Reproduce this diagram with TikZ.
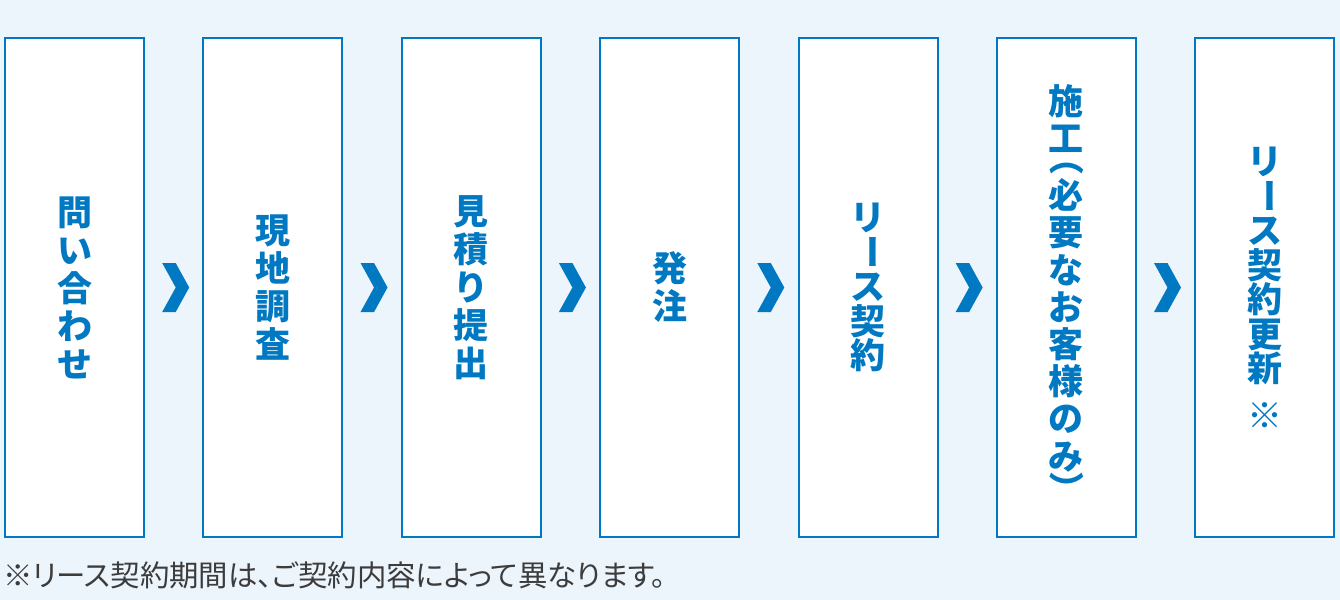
\documentclass[tikz,border=0pt]{standalone}
\usepackage{fontspec}
\usepackage{tikz}
\usetikzlibrary{positioning,calc}
\newfontfamily\jp{Noto Sans CJK JP}
\newfontfamily\jpnote{Noto Sans CJK JP}[RawFeature=+palt]
\definecolor{flowblue}{HTML}{0079C2}
\definecolor{pagebg}{HTML}{EDF5FC}
\definecolor{notegray}{HTML}{3C3C3C}
\newcommand{\tatebar}{\rotatebox[x=.5em,y=.38em]{-90}{ー}}
\newcommand{\tateparen}[1]{\rotatebox[x=.5em,y=.38em]{-90}{#1}}
\tikzset{
  stage/.style={draw=flowblue,line width=1pt,fill=white,minimum width=69.5pt,minimum height=249.5pt,
    inner sep=0pt,align=center,text=flowblue,font=\jp\bfseries\fontsize{17.5}{19}\selectfont},
  tight/.style={font=\jp\bfseries\fontsize{17.5}{17.3}\selectfont},
  chev/.style={fill=flowblue},
  note/.style={text=notegray,inner sep=0pt,anchor=west,font=\jpnote\fontsize{14.7}{18}\selectfont}
}

\begin{document}
\begin{tikzpicture}[x=0.5pt,y=-0.5pt]
    \fill[pagebg] (0,0) rectangle (1340,600);
    \useasboundingbox (0,0) rectangle (1340,600);

    \node[stage] (s1) at (74.5,287.5) {問\\い\\合\\わ\\せ};
    \node[stage] (s2) at (272.9,287.5) {現\\地\\調\\査};
    \node[stage] (s3) at (471.2,287.5) {見\\積\\り\\提\\出};
    \node[stage] (s4) at (669.6,287.5) {発\\注};
    \node[stage,tight] (s5) at (868,287.5) {リ\\\tatebar\\ス\\契\\約};
    \node[stage,font=\jp\bfseries\fontsize{17.5}{18.6}\selectfont] (s6) at (1066.3,287.5)
      {\rule{0pt}{1.3em}施\\工\\[-.49em]\tateparen{（}\\必\\要\\な\\お\\客\\様\\の\\み\\[-.12em]\tateparen{）}};
    \node[stage,tight] (s7) at (1264.7,287.5) {リ\\\tatebar\\ス\\契\\約\\更\\新\\[.33em]※};

    % chevrons between the steps
    \foreach \a/\b in {s1/s2,s2/s3,s3/s4,s4/s5,s5/s6,s6/s7}
      \fill[chev] ($(\a.east)!.5!(\b.west)$) ++(-11.5,-24.5) -- ++(13.5,0) -- ++(13.5,24.5)
        -- ++(-13.5,24.5) -- ++(-13.5,0) -- ++(13.5,-24.5) -- cycle;

    \node[note] (fn) at (3,575) {※リース契約期間は、ご契約内容によって異なります。};
\end{tikzpicture}
\end{document}
